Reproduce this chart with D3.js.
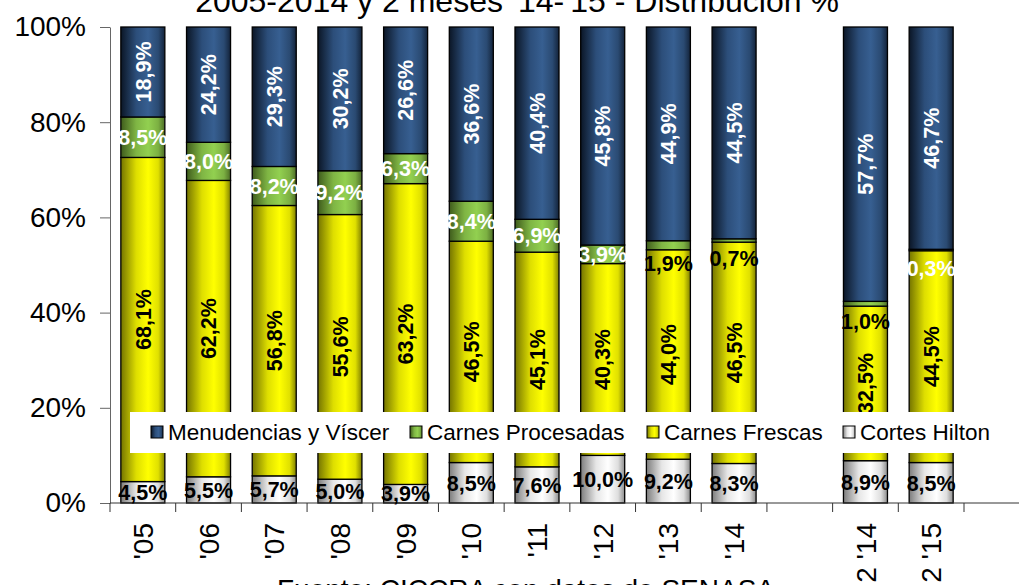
<!DOCTYPE html>
<html>
<head>
<meta charset="utf-8">
<script src="https://cdn.jsdelivr.net/npm/d3@7"></script>
<style>
  body { margin: 0; background: #fff; }
  svg { display: block; font-family: "Liberation Sans", Arial, sans-serif; }
</style>
</head>
<body>
<div id="wrapper"></div>
<script>

// data, one value per category; "" is the empty gap
const categorias = ["'05", "'06", "'07", "'08", "'09", "'10", "'11", "'12", "'13", "'14", "", "2 '14", "2 '15"]
const cortesHilton = [4.5, 5.5, 5.7, 5.0, 3.9, 8.5, 7.6, 10.0, 9.2, 8.3, null, 8.9, 8.5]
const carnesFrescas = [68.1, 62.2, 56.8, 55.6, 63.2, 46.5, 45.1, 40.3, 44.0, 46.5, null, 32.5, 44.5]
const carnesProcesadas = [8.5, 8.0, 8.2, 9.2, 6.3, 8.4, 6.9, 3.9, 1.9, 0.7, null, 1.0, 0.3]
const menudencias = [18.9, 24.2, 29.3, 30.2, 26.6, 36.6, 40.4, 45.8, 44.9, 44.5, null, 57.7, 46.7]
const seriesNames = ["Cortes Hilton", "Carnes Frescas", "Carnes Procesadas", "Menudencias y Víscer"]
const yTicks = [0, 0.2, 0.4, 0.6, 0.8, 1]
const titulo = "2005-2014 y 2 meses '14-'15 - Distribución %"
const fuente = "Fuente: CICCRA con datos de SENASA"

function drawChart() {

  const width = 1019
  const height = 585

  // plot box
  const left = 110, right = 964, top = 27, bottom = 503

  const svg = d3.select("#wrapper")
    .append("svg")
      .attr("width", width)
      .attr("height", height)

  // gradients, dark edges and a light band a bit right of middle
  const grads = {
    "Menudencias y Víscer": ["#0b1626", "#2c4e7a", "#375f91", "#2a4a72", "#13233a"],
    "Carnes Procesadas": ["#3f5c1c", "#7fb544", "#92d050", "#7cb042", "#4d6d26"],
    "Carnes Frescas": ["#747400", "#dede00", "#ffff00", "#e0e000", "#808000"],
    "Cortes Hilton": ["#7d7d7d", "#e6e6e6", "#ffffff", "#dedede", "#8c8c8c"],
  }
  const defs = svg.append("defs")
  seriesNames.forEach((s, i) => {
    const g = defs.append("linearGradient")
      .attr("id", "grad" + i)
      .attr("x1", 0).attr("x2", 1).attr("y1", 0).attr("y2", 0)
    const offs = [0, 0.35, 0.62, 0.85, 1]
    grads[s].forEach((c, k) => g.append("stop").attr("offset", offs[k]).attr("stop-color", c))
  })

  // scales
  const x = d3.scaleBand()
    .domain(categorias.map((c, i) => i))
    .range([left, right])
    .paddingInner(0.33)
    .paddingOuter(0.165)

  const y = d3.scaleLinear()
    .domain([0, 1])
    .range([bottom, top])

  // rows for stacking (the gap is skipped)
  const rows = categorias.map((c, i) => ({
    idx: i,
    cat: c,
    "Cortes Hilton": cortesHilton[i],
    "Carnes Frescas": carnesFrescas[i],
    "Carnes Procesadas": carnesProcesadas[i],
    "Menudencias y Víscer": menudencias[i],
  })).filter(d => d["Cortes Hilton"] != null)

  const stacked = d3.stack()
    .keys(seriesNames)
    .offset(d3.stackOffsetExpand)(rows)

  // bars
  const layers = svg.append("g").selectAll("g")
    .data(stacked)
    .join("g")
      .attr("fill", (d, i) => `url(#grad${i})`)

  layers.selectAll("rect")
    .data(d => d)
    .join("rect")
      .attr("x", d => x(d.data.idx))
      .attr("width", x.bandwidth())
      .attr("y", d => y(d[1]))
      .attr("height", d => y(d[0]) - y(d[1]))
      .attr("stroke", "#000")
      .attr("stroke-width", 1.3)

  // axes
  const yAxis = d3.axisLeft(y)
    .tickValues(yTicks)
    .tickFormat(d3.format(".0%"))
    .tickSize(10)
    .tickSizeOuter(0)
    .tickPadding(14)

  const gy = svg.append("g")
    .attr("transform", `translate(${left},0)`)
    .call(yAxis)
  gy.select(".domain").attr("stroke", "#666")
  gy.selectAll(".tick line").attr("stroke", "#666")
  gy.selectAll(".tick text")
    .attr("font-size", 28)
    .attr("fill", "#000")
    .attr("font-family", "Liberation Sans, Arial, sans-serif")

  // x axis: line + ticks at category boundaries
  const gx = svg.append("g")
  gx.append("line")
    .attr("x1", left).attr("x2", width)
    .attr("y1", bottom).attr("y2", bottom)
    .attr("stroke", "#333")
  const edges = categorias.map((c, i) => x(i) - (x.step() - x.bandwidth()) / 2)
  edges.push(x(categorias.length - 1) + x.bandwidth() + (x.step() - x.bandwidth()) / 2)
  gx.selectAll("line.tk")
    .data(edges)
    .join("line")
      .attr("class", "tk")
      .attr("x1", d => d).attr("x2", d => d)
      .attr("y1", bottom).attr("y2", bottom + 9)
      .attr("stroke", "#333")

  gx.selectAll("text")
    .data(categorias.map((c, i) => ({ c, i })).filter(d => d.c !== ""))
    .join("text")
      .attr("transform", d => `translate(${x(d.i) + x.bandwidth() / 2},523) rotate(-90)`)
      .attr("text-anchor", "end")
      .attr("dy", "0.36em")
      .attr("font-size", 28)
      .text(d => d.c)

  // data labels
  const fmt = v => d3.format(".1f")(v).replace(".", ",") + "%"
  const darkProc = ["'13", "'14", "2 '14"]

  const labels = svg.append("g").attr("font-weight", "bold").attr("font-size", 21.5)
  stacked.forEach(layer => {
    const key = layer.key
    layer.forEach(d => {
      const v = d.data[key]
      const cx = x(d.data.idx) + x.bandwidth() / 2
      let cy = (y(d[0]) + y(d[1])) / 2
      const t = labels.append("text").text(fmt(v)).attr("text-anchor", "middle")
      if (key === "Cortes Hilton") {
        t.attr("x", cx).attr("y", cy).attr("dy", "0.36em").attr("fill", "#000")
      } else if (key === "Carnes Procesadas") {
        if (v < 2.5) cy += 18
        t.attr("x", cx).attr("y", cy).attr("dy", "0.36em")
          .attr("fill", darkProc.includes(d.data.cat) ? "#000" : "#fff")
      } else {
        t.attr("transform", `translate(${cx},${cy}) rotate(-90)`)
          .attr("dy", "0.36em")
          .attr("fill", key === "Carnes Frescas" ? "#000" : "#fff")
      }
    })
  })

  // legend
  const legend = svg.append("g")
  legend.append("rect")
    .attr("x", 130).attr("y", 412)
    .attr("width", 873).attr("height", 41)
    .attr("fill", "#fff")
  const legendItems = ["Menudencias y Víscer", "Carnes Procesadas", "Carnes Frescas", "Cortes Hilton"]
  const legendX = [151, 410, 647, 843]
  legendItems.forEach((s, i) => {
    const gi = seriesNames.indexOf(s)
    legend.append("rect")
      .attr("x", legendX[i]).attr("y", 426)
      .attr("width", 12).attr("height", 12)
      .attr("fill", `url(#grad${gi})`)
      .attr("stroke", "#000")
      .attr("stroke-width", 1)
    legend.append("text")
      .attr("x", legendX[i] + 17).attr("y", 440)
      .attr("font-size", 22.5)
      .text(s)
  })

  // title (cut at top) and source (cut at bottom), as in the original picture
  svg.append("text")
    .attr("x", 517).attr("y", 12)
    .attr("text-anchor", "middle")
    .attr("font-size", 32)
    .text(titulo)

  svg.append("text")
    .attr("x", 277).attr("y", 599)
    .attr("font-size", 28)
    .text(fuente)
}

drawChart()
</script>
</body>
</html>
